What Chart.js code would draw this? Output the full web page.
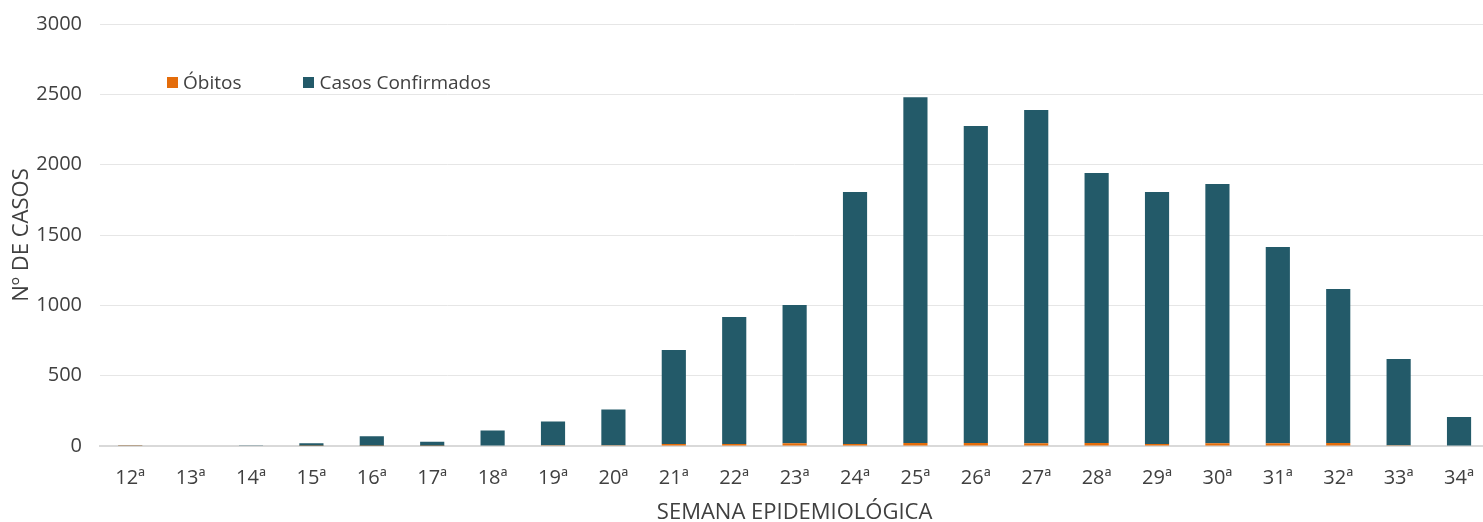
<!DOCTYPE html>
<html lang="pt">
<head>
    <meta charset="UTF-8">
    <title>Casos por semana epidemiológica</title>
    <script src="https://cdn.jsdelivr.net/npm/chart.js"></script>
    <style>
        html, body { margin: 0; padding: 0; background: #fff; overflow: hidden; }
        .wrap { position: relative; width: 1494px; height: 522px; overflow: hidden; }
        #casosChart { position: absolute; top: -6px; left: 0; }
        .legend { position: absolute; top: 69px; left: 167px; font-family: "Open Sans", "Noto Sans", sans-serif;
                  font-size: 19px; color: #404040; display: flex; }
        .legend span.item { display: flex; align-items: center; margin-right: 62px; }
        .legend i { display: inline-block; width: 11px; height: 11px; margin-right: 5px; }
    </style>
</head>
<body>
    <div class="wrap">
        <canvas id="casosChart" width="1494" height="532"></canvas>
        <div class="legend">
            <span class="item"><i style="background:#E46C0A"></i>Óbitos</span>
            <span class="item"><i style="background:#235A69"></i>Casos Confirmados</span>
        </div>
    </div>

    <script>
        // semanas epidemiológicas
        const semanas = ['12ª', '13ª', '14ª', '15ª', '16ª', '17ª', '18ª', '19ª', '20ª', '21ª', '22ª', '23ª',
                         '24ª', '25ª', '26ª', '27ª', '28ª', '29ª', '30ª', '31ª', '32ª', '33ª', '34ª'];
        const obitos = [2, 0, 0, 1, 1, 1, 3, 5, 6, 14, 14, 20, 15, 22, 22, 20, 22, 14, 20, 20, 22, 6, 0];
        const casos = [1, 0, 5, 19, 69, 29, 107, 170, 254, 668, 903, 982, 1790, 2458, 2252, 2368, 1918, 1791, 1842, 1394, 1094, 612, 206];
        const yTicks = [0, 500, 1000, 1500, 2000, 2500, 3000];

        const fonte = "'Open Sans', 'Noto Sans', sans-serif";
        const ctx = document.getElementById('casosChart').getContext('2d');
        new Chart(ctx, {
            type: 'bar',
            data: {
                labels: semanas,
                datasets: [
                    { label: 'Óbitos', data: obitos, backgroundColor: '#E46C0A', barPercentage: 0.4, categoryPercentage: 1 },
                    { label: 'Casos Confirmados', data: casos, backgroundColor: '#235A69', barPercentage: 0.4, categoryPercentage: 1 }
                ]
            },
            options: {
                responsive: false,
                animation: false,
                layout: { padding: 0 },
                plugins: { legend: { display: false }, tooltip: { enabled: false } },
                scales: {
                    x: {
                        stacked: true,
                        afterFit: s => { s.height = 80; },
                        grid: { display: false, drawTicks: false },
                        border: { color: '#d9d9d9', width: 2 },
                        ticks: { color: '#404040', font: { family: fonte, size: 20 }, padding: 20, maxRotation: 0 },
                        title: { display: true, text: 'SEMANA EPIDEMIOLÓGICA', color: '#404040',
                                 font: { family: fonte, size: 22 }, padding: 0 }
                    },
                    y: {
                        stacked: true,
                        min: 0, max: 3000,
                        afterBuildTicks: s => { s.ticks = yTicks.map(v => ({ value: v })); },
                        afterFit: s => { s.width = 100; },
                        grid: { color: '#e6e6e6', drawTicks: false },
                        border: { display: false },
                        ticks: { color: '#404040', font: { family: fonte, size: 20 }, padding: 18,
                                 callback: v => String(v) },
                        title: { display: true, text: 'Nº DE CASOS', color: '#404040',
                                 font: { family: fonte, size: 22 }, padding: { top: 9, bottom: 0 } }
                    }
                }
            }
        });
    </script>
</body>
</html>
